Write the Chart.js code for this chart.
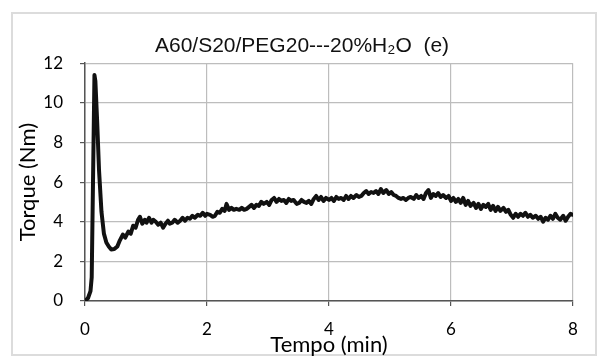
<!DOCTYPE html>
<html>
<head>
<meta charset="utf-8">
<script src="https://cdn.jsdelivr.net/npm/chart.js@4/dist/chart.umd.min.js"></script>
<style>
    html, body { margin: 0; padding: 0; background: #fff; }
    #wrap { position: relative; width: 597px; height: 358px; }
    #frame { position: absolute; left: 11px; top: 12px; width: 582px; height: 340px; border: 2px solid #dcdcdc; }
    #torqueChart { position: absolute; left: 0; top: 0; }
</style>
</head>
<body>
<div id="wrap">
    <div id="frame"></div>
    <canvas id="torqueChart" width="597" height="358"></canvas>
</div>
<script>
// Torque curve, time in minutes
const timeMin = [
    0.00, 0.05, 0.09, 0.11, 0.155, 0.17, 0.20, 0.23, 0.27, 0.31, 0.35, 0.39, 0.43, 0.48, 0.53, 0.57,
    0.62, 0.66, 0.71, 0.75, 0.79, 0.83, 0.87, 0.90, 0.94, 0.98, 1.01, 1.05, 1.09, 1.12, 1.16, 1.20,
    1.24, 1.28, 1.32, 1.36, 1.39, 1.43, 1.47, 1.52, 1.56, 1.60, 1.64, 1.68, 1.72, 1.76, 1.80, 1.85,
    1.89, 1.93, 1.97, 2.00, 2.05, 2.09, 2.13, 2.17, 2.21, 2.25, 2.29, 2.32, 2.36, 2.40, 2.44, 2.48,
    2.53, 2.57, 2.61, 2.65, 2.69, 2.73, 2.77, 2.81, 2.85, 2.89, 2.93, 2.98, 3.02, 3.06, 3.10, 3.14,
    3.18, 3.22, 3.26, 3.30, 3.34, 3.38, 3.42, 3.47, 3.51, 3.55, 3.59, 3.63, 3.67, 3.71, 3.75, 3.79,
    3.83, 3.87, 3.91, 3.95, 4.00, 4.04, 4.08, 4.12, 4.16, 4.20, 4.24, 4.28, 4.32, 4.36, 4.40, 4.45,
    4.49, 4.53, 4.57, 4.61, 4.65, 4.69, 4.73, 4.77, 4.81, 4.85, 4.89, 4.94, 4.98, 5.02, 5.06, 5.10,
    5.14, 5.18, 5.22, 5.26, 5.30, 5.34, 5.39, 5.43, 5.47, 5.51, 5.55, 5.59, 5.63, 5.67, 5.71, 5.75,
    5.79, 5.83, 5.87, 5.92, 5.96, 6.00, 6.04, 6.08, 6.12, 6.16, 6.20, 6.24, 6.28, 6.32, 6.37, 6.41,
    6.45, 6.49, 6.53, 6.57, 6.61, 6.65, 6.69, 6.73, 6.77, 6.81, 6.86, 6.90, 6.94, 6.98, 7.02, 7.06,
    7.10, 7.14, 7.18, 7.22, 7.26, 7.30, 7.34, 7.39, 7.43, 7.47, 7.51, 7.55, 7.59, 7.63, 7.67, 7.71,
    7.75, 7.79, 7.84, 7.88, 7.92, 7.96, 8.00
];

// Torque in Nm, one value per time sample
const torqueNm = [
    0.00, 0.15, 0.50, 1.20, 11.40, 11.10, 9.00, 6.60, 4.50, 3.40, 2.95, 2.75, 2.60, 2.62, 2.75, 3.05,
    3.35, 3.20, 3.50, 3.40, 3.80, 3.70, 4.10, 4.25, 3.90, 4.10, 3.95, 4.20, 3.95, 4.10, 4.00, 3.85,
    3.95, 3.70, 3.90, 4.05, 3.90, 3.95, 4.10, 3.95, 4.05, 4.20, 4.05, 4.20, 4.15, 4.30, 4.20, 4.35,
    4.30, 4.45, 4.30, 4.40, 4.35, 4.25, 4.30, 4.50, 4.45, 4.65, 4.55, 4.90, 4.60, 4.70, 4.60, 4.65,
    4.60, 4.70, 4.60, 4.65, 4.75, 4.85, 4.70, 4.85, 4.80, 5.00, 4.90, 5.00, 4.85, 5.10, 5.20, 5.00,
    5.15, 5.05, 5.10, 4.95, 5.15, 5.05, 5.10, 4.90, 4.95, 5.10, 5.00, 4.95, 5.05, 4.90, 5.15, 5.30,
    5.10, 5.25, 5.05, 5.20, 5.10, 5.20, 5.05, 5.25, 5.15, 5.20, 5.10, 5.30, 5.15, 5.30, 5.20, 5.35,
    5.25, 5.30, 5.45, 5.55, 5.40, 5.50, 5.45, 5.55, 5.40, 5.65, 5.45, 5.60, 5.40, 5.50, 5.35, 5.30,
    5.20, 5.15, 5.20, 5.10, 5.20, 5.25, 5.15, 5.35, 5.20, 5.30, 5.15, 5.45, 5.60, 5.20, 5.40, 5.30,
    5.45, 5.25, 5.35, 5.20, 5.30, 5.05, 5.20, 5.00, 5.15, 4.95, 5.20, 4.85, 5.05, 4.80, 4.95, 4.70,
    4.90, 4.65, 4.85, 4.75, 4.90, 4.60, 4.80, 4.55, 4.75, 4.55, 4.70, 4.50, 4.60, 4.35, 4.20, 4.40,
    4.25, 4.40, 4.30, 4.45, 4.25, 4.35, 4.20, 4.30, 4.15, 4.25, 4.00, 4.20, 4.10, 4.30, 4.15, 4.40,
    4.20, 4.10, 4.30, 4.05, 4.25, 4.40, 4.35
];

const xTicks = [0, 2, 4, 6, 8];
const yTicks = [0, 2, 4, 6, 8, 10, 12];

const points = timeMin.map((t, i) => ({ x: t, y: torqueNm[i] }));

const tickFont = { family: 'Lato, "Open Sans", sans-serif', size: 17 };
const axisTitleFont = { family: 'Lato, "Open Sans", sans-serif', size: 22 };

new Chart(document.getElementById('torqueChart'), {
    type: 'line',
    data: {
        datasets: [{
            data: points,
            borderColor: '#111',
            borderWidth: 4,
            pointRadius: 0,
            tension: 0,
            borderJoinStyle: 'round',
            borderCapStyle: 'round'
        }]
    },
    options: {
        responsive: false,
        animation: false,
        layout: { padding: { left: 12, right: 5, top: 0, bottom: 0 } },
        plugins: {
            legend: { display: false },
            tooltip: { enabled: false },
            title: {
                display: true,
                text: 'A60/S20/PEG20---20%H\u2082O  (e)',
                color: '#111',
                font: { family: '"Liberation Sans", Arial, sans-serif', size: 21, weight: 'normal' },
                padding: { top: 34, bottom: 4 }
            }
        },
        scales: {
            x: {
                type: 'linear',
                min: 0,
                max: 8,
                afterBuildTicks: axis => { axis.ticks = xTicks.map(v => ({ value: v })); },
                afterFit: axis => { axis.height = 57; },
                ticks: { color: '#000', font: tickFont, padding: 13 },
                grid: { color: '#bdbdbd', lineWidth: 1.2, tickColor: '#555', tickLength: 5 },
                border: { color: '#555', width: 1.5 },
                title: { display: true, text: 'Tempo (min)', color: '#000', font: axisTitleFont, padding: { top: 0, bottom: 0 } }
            },
            y: {
                min: 0,
                max: 12,
                afterBuildTicks: axis => { axis.ticks = yTicks.map(v => ({ value: v })); },
                afterFit: axis => { axis.width = 73; },
                ticks: { color: '#000', font: tickFont, padding: 17 },
                grid: { color: '#bdbdbd', lineWidth: 1.2, tickColor: '#555', tickLength: 5 },
                border: { color: '#555', width: 1.5 },
                title: { display: true, text: 'Torque (Nm)', color: '#000', font: axisTitleFont, padding: { top: 3, bottom: 0 } }
            },
            // empty right-hand strip that keeps the plot off the frame
            yRight: {
                position: 'right',
                min: 0,
                max: 12,
                afterFit: axis => { axis.width = 19; },
                ticks: { display: false },
                grid: { display: false, drawTicks: false },
                border: { display: false }
            }
        }
    }
});
</script>
</body>
</html>
